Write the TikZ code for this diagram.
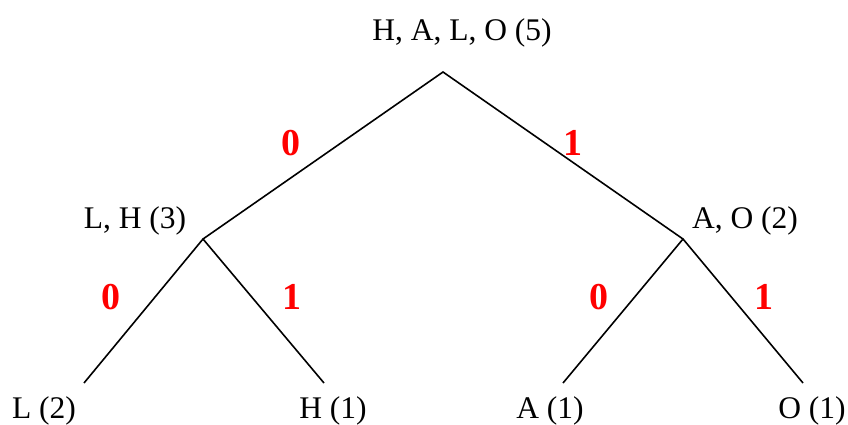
\documentclass[tikz,border=0pt]{standalone}
\usepackage{fontspec}
\setmainfont{Liberation Serif}
\begin{document}
\begin{tikzpicture}[x=1pt,y=-1pt,
  lbl/.style={anchor=base,inner sep=0pt,font=\fontsize{31.5}{36}\selectfont},
  bit/.style={anchor=center,inner sep=0pt,text=red,font=\fontsize{38}{44}\selectfont\bfseries},
  edge/.style={line width=1.6pt,black}]
\useasboundingbox (0,0) rectangle (848,424);
% junctions
\coordinate (r) at (443,72);
\coordinate (l) at (203,239);
\coordinate (rt) at (683,239);
\coordinate (ll) at (84,383);
\coordinate (lh) at (324,383);
\coordinate (ra) at (563,383);
\coordinate (ro) at (803,383);
% edges
\draw[edge] (l) -- (r) -- (rt);
\draw[edge] (ll) -- (l) -- (lh);
\draw[edge] (ra) -- (rt) -- (ro);
% labels
\node[lbl] (root) at (462,40) {H, A, L, O (5)};
\node[lbl] (lhn) at (135,228) {L, H (3)};
\node[lbl] (aon) at (745,228) {A, O (2)};
\node[lbl] (l2) at (44,418) {L (2)};
\node[lbl] (h1) at (333,418) {H (1)};
\node[lbl] (a1) at (550,418) {A (1)};
\node[lbl] (o1) at (812,418) {O (1)};
% bits
\node[bit] (b1) at (291,143) {0};
\node[bit] (b2) at (573,143) {1};
\node[bit] (b3) at (111,297) {0};
\node[bit] (b4) at (292,297) {1};
\node[bit] (b5) at (599,297) {0};
\node[bit] (b6) at (764,297) {1};
\end{tikzpicture}
\end{document}
